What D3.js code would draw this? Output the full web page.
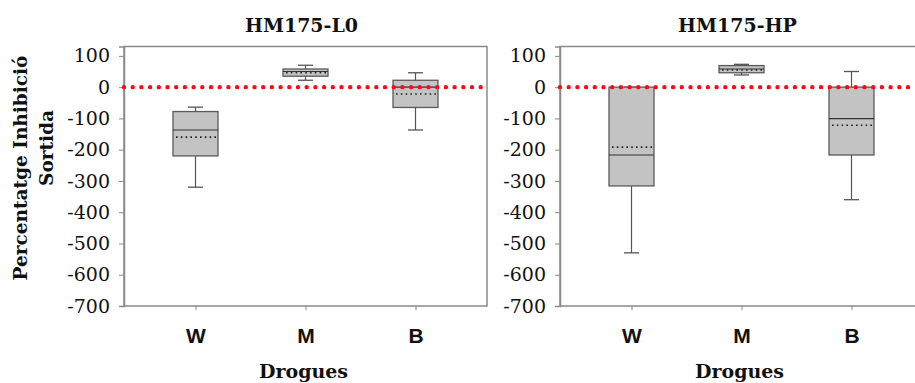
<!DOCTYPE html>
<html><head><meta charset="utf-8">
<script src="https://cdn.jsdelivr.net/npm/d3@7"></script>
<style>body{margin:0;background:#fff}svg{display:block}</style>
</head><body>
<svg id="chart" width="915" height="383"></svg>
<script>
const categories = ["W", "M", "B"];
const panelTitles = ["HM175-L0", "HM175-HP"];
const yTicks = [100, 0, -100, -200, -300, -400, -500, -600, -700];
const yTitleLines = ["Percentatge Inhibició", "Sortida"];
const xTitle = "Drogues";

// HM175-L0
const l0Low    = [-320, 22, -137];
const l0Q1     = [-220, 35, -65];
const l0Median = [-137, 50, 0];
const l0Q3     = [-78, 58, 22];
const l0High   = [-64, 70, 46];
const l0Mean   = [-160, 46, -22];
// HM175-HP
const hpLow    = [-530, 39, -360];
const hpQ1     = [-316, 46, -217];
const hpMedian = [-217, 58, -101];
const hpQ3     = [0, 69, 0];
const hpHigh   = [0, 73, 50];
const hpMean   = [-192, 55, -122];

const referenceLine = 0;

const panelData = [
  {title: panelTitles[0], low: l0Low, q1: l0Q1, med: l0Median, q3: l0Q3, high: l0High, mean: l0Mean},
  {title: panelTitles[1], low: hpLow, q1: hpQ1, med: hpMedian, q3: hpQ3, high: hpHigh, mean: hpMean}
];

const svg = d3.select("#chart");
const serif = "'DejaVu Serif', serif";
const plotTop = 46.5, plotBottom = 306;
const panelX = [[124, 487], [560, 923]];
const boxW = 45, capW = 15;

const y = d3.scaleLinear().domain([-700, 130]).range([plotBottom, plotTop]);

panelData.forEach((p, pi) => {
  const [x0, x1] = panelX[pi];
  const x = d3.scalePoint().domain(categories).range([x0, x1]).padding(0.65);
  const g = svg.append("g");

  // frame
  g.append("rect").attr("x", x0).attr("y", plotTop).attr("width", x1 - x0).attr("height", plotBottom - plotTop)
    .attr("fill", "none").attr("stroke", "#8a8a8a").attr("stroke-width", 1.5);

  // y axis
  const ya = g.append("g").attr("transform", `translate(${x0},0)`)
    .call(d3.axisLeft(y).tickValues(yTicks).tickSize(5).tickPadding(9).tickFormat(d => String(d)));
  ya.select(".domain").attr("stroke", "#8a8a8a").attr("stroke-width", 1.5);
  ya.selectAll(".tick line").attr("stroke", "#8a8a8a");
  ya.selectAll("text").attr("font-family", serif).attr("font-size", 19).attr("fill", "#111");

  // x axis
  const xa = g.append("g").attr("transform", `translate(0,${plotBottom})`)
    .call(d3.axisBottom(x).tickSize(4).tickPadding(18));
  xa.select(".domain").remove();
  xa.selectAll(".tick line").attr("stroke", "#8a8a8a");
  xa.selectAll("text").attr("font-family", "'Liberation Sans', Arial, sans-serif")
    .attr("font-weight", "bold").attr("font-size", 21).attr("fill", "#111");

  // boxes
  categories.forEach((c, i) => {
    const cx = x(c);
    const bg = g.append("g");
    bg.append("line").attr("x1", cx).attr("x2", cx).attr("y1", y(p.high[i])).attr("y2", y(p.q3[i]))
      .attr("stroke", "#555").attr("stroke-width", 1.2);
    bg.append("line").attr("x1", cx).attr("x2", cx).attr("y1", y(p.q1[i])).attr("y2", y(p.low[i]))
      .attr("stroke", "#555").attr("stroke-width", 1.2);
    [p.high[i], p.low[i]].forEach(v => {
      bg.append("line").attr("x1", cx - capW / 2).attr("x2", cx + capW / 2).attr("y1", y(v)).attr("y2", y(v))
        .attr("stroke", "#555").attr("stroke-width", 1.3);
    });
    bg.append("rect").attr("x", cx - boxW / 2).attr("width", boxW)
      .attr("y", y(p.q3[i])).attr("height", y(p.q1[i]) - y(p.q3[i]))
      .attr("fill", "#c3c3c3").attr("stroke", "#5a5a5a").attr("stroke-width", 1.3);
    bg.append("line").attr("x1", cx - boxW / 2).attr("x2", cx + boxW / 2)
      .attr("y1", y(p.med[i])).attr("y2", y(p.med[i])).attr("stroke", "#333").attr("stroke-width", 1.2);
    bg.append("line").attr("x1", cx - boxW / 2 + 3).attr("x2", cx + boxW / 2 - 2)
      .attr("y1", y(p.mean[i])).attr("y2", y(p.mean[i])).attr("stroke", "#222")
      .attr("stroke-width", 1.6).attr("stroke-dasharray", "1.6 3.2");
  });

  // red reference line
  g.append("line").attr("x1", x0).attr("x2", Math.min(x1, 915)).attr("y1", y(referenceLine)).attr("y2", y(referenceLine))
    .attr("stroke", "#ee1111").attr("stroke-width", 4.4).attr("stroke-linecap", "round")
    .attr("stroke-dasharray", "0 8.7");

  // title
  g.append("text").attr("x", (x0 + x1) / 2 - 4).attr("y", 32).attr("text-anchor", "middle")
    .attr("font-family", serif).attr("font-weight", "bold").attr("font-size", 19).attr("fill", "#111")
    .text(p.title);

  // x title
  g.append("text").attr("x", (x0 + x1) / 2 - 2).attr("y", 378).attr("text-anchor", "middle")
    .attr("font-family", serif).attr("font-weight", "bold").attr("font-size", 19).attr("fill", "#111")
    .text(xTitle);
});

// y title
const yt = [[27, 168], [53, 148]];
yTitleLines.forEach((t, i) => {
  svg.append("text").attr("transform", `translate(${yt[i][0]},${yt[i][1]}) rotate(-90)`)
    .attr("text-anchor", "middle").attr("font-family", serif).attr("font-weight", "bold")
    .attr("font-size", 18.5).attr("fill", "#111").text(t);
});
</script>
</body></html>
